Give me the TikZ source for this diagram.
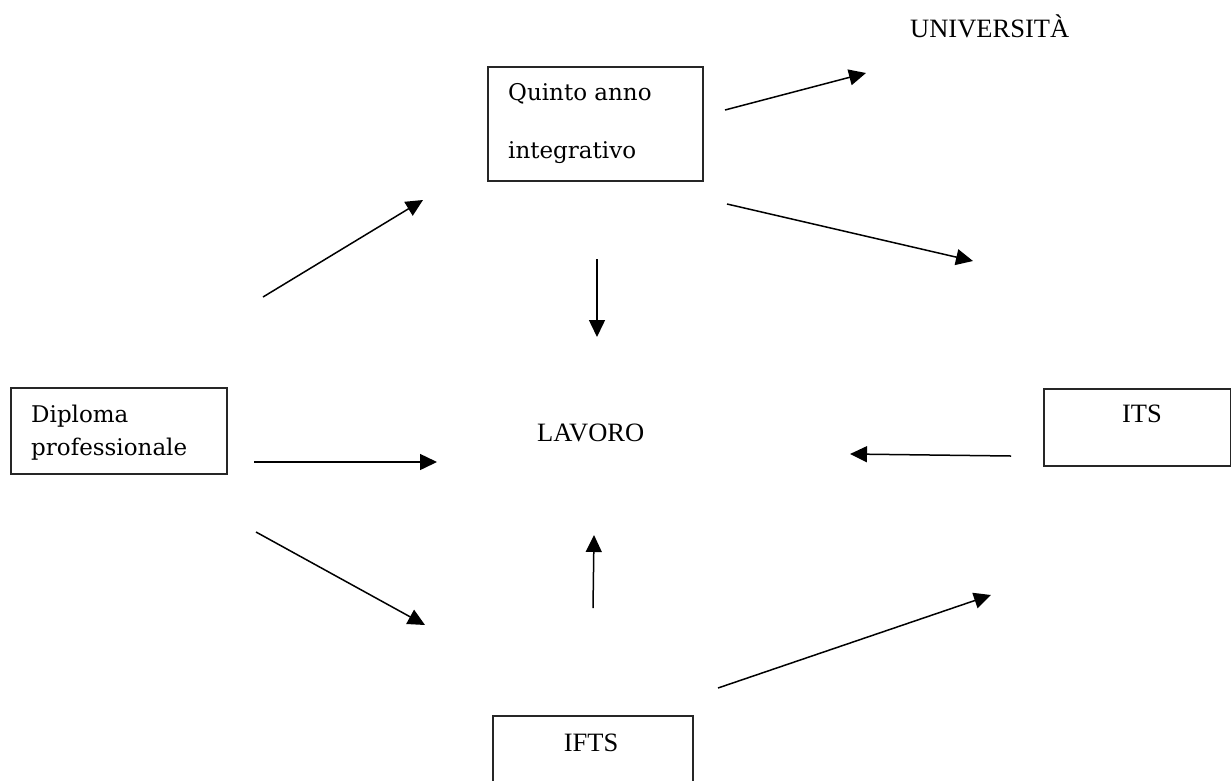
\documentclass[tikz,border=0pt]{standalone}
\usepackage{fontspec}
\setmainfont{Liberation Serif}
\newfontfamily\geofont{DejaVu Serif}
\usetikzlibrary{arrows.meta}
\begin{document}
\begin{tikzpicture}[x=1pt,y=-1pt,
  boxstyle/.style={draw=black!85,line width=1.5pt,inner sep=0pt,anchor=north west},
  lbl/.style={inner sep=0pt,anchor=base west,font=\geofont\fontsize{23}{28}\selectfont},
  caps/.style={inner sep=0pt,anchor=base,font=\fontsize{26.5}{30}\selectfont},
  arr/.style={line width=1.5pt,-{Triangle[length=17pt,width=16pt]}}]
\useasboundingbox[fill=white] (0,0) rectangle (1231,780);
% boxes
\node[boxstyle,minimum width=215pt,minimum height=114pt] (quinto) at (487,66) {};
\node[boxstyle,minimum width=216pt,minimum height=86pt] (diploma) at (10,387) {};
\node[boxstyle,minimum width=187pt,minimum height=77pt] (its) at (1043,388) {};
\node[boxstyle,minimum width=200pt,minimum height=80pt] (ifts) at (492,715) {};
% texts
\node[lbl] (quintoA) at (508,100) {Quinto anno};
\node[lbl] (quintoB) at (508,158) {integrativo};
\node[lbl] (diplomaA) at (31,422) {Diploma};
\node[lbl] (diplomaB) at (31,455) {professionale};
\node[caps,anchor=base west] (univ) at (910,37) {UNIVERSITÀ};
\node[caps,anchor=base west] (lavoro) at (537,441) {LAVORO};
\node[caps] (itstext) at (1142,422) {ITS};
\node[caps] (iftstext) at (591,751) {IFTS};
% arrow end points
\coordinate (a1s) at (263,297); \coordinate (a1e) at (423,200);
\coordinate (a2s) at (725,110); \coordinate (a2e) at (866,73);
\coordinate (a3s) at (727,204); \coordinate (a3e) at (973,261);
\coordinate (a4s) at (597,259); \coordinate (a4e) at (597,337);
\coordinate (a5s) at (254,462); \coordinate (a5e) at (437,462);
\coordinate (a6s) at (1011,456); \coordinate (a6e) at (850,454);
\coordinate (a7s) at (256,532); \coordinate (a7e) at (425,625);
\coordinate (a8s) at (593,608); \coordinate (a8e) at (594,535);
\coordinate (a9s) at (718,688); \coordinate (a9e) at (991,595);
% arrows
\draw[arr] (a1s) -- (a1e);
\draw[arr] (a2s) -- (a2e);
\draw[arr] (a3s) -- (a3e);
\draw[arr] (a4s) -- (a4e);
\draw[arr] (a5s) -- (a5e);
\draw[arr] (a6s) -- (a6e);
\draw[arr] (a7s) -- (a7e);
\draw[arr] (a8s) -- (a8e);
\draw[arr] (a9s) -- (a9e);
\end{tikzpicture}
\end{document}
